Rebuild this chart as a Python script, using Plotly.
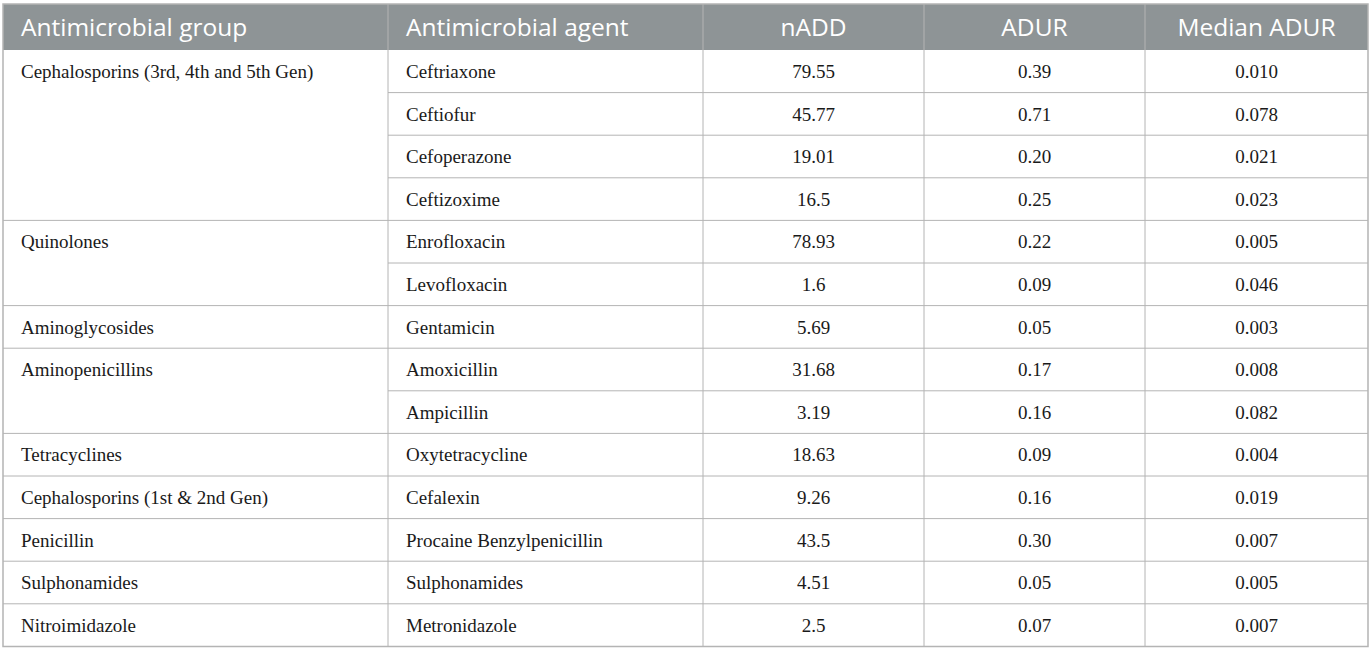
import plotly.graph_objects as go

columns = ["Antimicrobial group", "Antimicrobial agent", "nADD", "ADUR", "Median ADUR"]

group_names = ["Cephalosporins (3rd, 4th and 5th Gen)", "Quinolones", "Aminoglycosides",
               "Aminopenicillins", "Tetracyclines", "Cephalosporins (1st & 2nd Gen)",
               "Penicillin", "Sulphonamides", "Nitroimidazole"]
group_sizes = [4, 2, 1, 2, 1, 1, 1, 1, 1]

agents = ["Ceftriaxone", "Ceftiofur", "Cefoperazone", "Ceftizoxime", "Enrofloxacin",
          "Levofloxacin", "Gentamicin", "Amoxicillin", "Ampicillin", "Oxytetracycline",
          "Cefalexin", "Procaine Benzylpenicillin", "Sulphonamides", "Metronidazole"]
nadd = [79.55, 45.77, 19.01, 16.5, 78.93, 1.6, 5.69, 31.68, 3.19, 18.63, 9.26, 43.5, 4.51, 2.5]
adur = [0.39, 0.71, 0.20, 0.25, 0.22, 0.09, 0.05, 0.17, 0.16, 0.09, 0.16, 0.30, 0.05, 0.07]
median_adur = [0.010, 0.078, 0.021, 0.023, 0.005, 0.046, 0.003, 0.008, 0.082, 0.004,
               0.019, 0.007, 0.005, 0.007]

W, H = 1372, 649
LINE = "#b4b4b4"
HEAD = "#8e9496"
TEXT = "#1a1a1a"

# grid layout in pixels
col_edges = [3, 388, 703, 924, 1145, 1368]
head_top, head_bot = 4, 50
row_h = 42.6
pad = 18
head_dy, body_dy = 3, 2   # nudge text down to sit optically centred
col_align = ["left", "left", "center", "center", "center"]

n_rows = len(agents)
row_mid = [head_bot + row_h * (i + 0.5) + body_dy for i in range(n_rows)]
row_edge = [head_bot + row_h * i for i in range(n_rows + 1)]

# merged group column: text on the first row of each group only
group_col = []
group_start = []
for name, n in zip(group_names, group_sizes):
    group_col += [name] + [""] * (n - 1)
    group_start += [True] + [False] * (n - 1)

body = [group_col, agents,
        [str(v) for v in nadd],
        [f"{v:.2f}" for v in adur],
        [f"{v:.3f}" for v in median_adur]]

fig = go.Figure()

shapes = []
# header band
shapes.append(dict(type="rect", x0=col_edges[0], x1=col_edges[-1], y0=head_top, y1=head_bot,
                   fillcolor=HEAD, line=dict(width=0), layer="below"))
# horizontal rules, skipping the group column inside a merged group
for k in range(1, n_rows):
    x_start = col_edges[0] if group_start[k] else col_edges[1]
    shapes.append(dict(type="line", x0=x_start, x1=col_edges[-1], y0=row_edge[k], y1=row_edge[k],
                       line=dict(color=LINE, width=1)))
# vertical rules
for x in col_edges[1:-1]:
    shapes.append(dict(type="line", x0=x, x1=x, y0=head_top, y1=row_edge[-1],
                       line=dict(color=LINE, width=1)))
# outer frame
shapes.append(dict(type="rect", x0=col_edges[0], x1=col_edges[-1], y0=head_top, y1=row_edge[-1],
                   line=dict(color=LINE, width=1.5), fillcolor="rgba(0,0,0,0)"))

for j, (name, vals) in enumerate(zip(columns, body)):
    if col_align[j] == "left":
        x = col_edges[j] + pad
        pos = "middle right"
    else:
        x = (col_edges[j] + col_edges[j + 1]) / 2
        pos = "middle center"
    fig.add_trace(go.Scatter(
        x=[x], y=[(head_top + head_bot) / 2 + head_dy], mode="text", text=[name],
        textposition=pos, textfont=dict(family="Open Sans", size=24.5, color="white"),
        hoverinfo="skip", showlegend=False,
    ))
    fig.add_trace(go.Scatter(
        x=[x] * n_rows, y=row_mid, mode="text", text=vals,
        textposition=pos, textfont=dict(family="Liberation Serif", size=19, color=TEXT),
        hoverinfo="skip", showlegend=False,
    ))

# one data unit = one pixel
fig.update_xaxes(range=[0, W], visible=False, fixedrange=True)
fig.update_yaxes(range=[H, 0], visible=False, fixedrange=True)
fig.update_layout(
    width=W,
    height=H,
    margin=dict(l=0, r=0, t=0, b=0),
    paper_bgcolor="white",
    plot_bgcolor="white",
    shapes=shapes,
    hovermode=False,
)

# drop the default page margin so the figure sits at the window's corner
fig.write_html("out.html", config={"displayModeBar": False},
               post_script="document.body.style.margin = '0px';")
